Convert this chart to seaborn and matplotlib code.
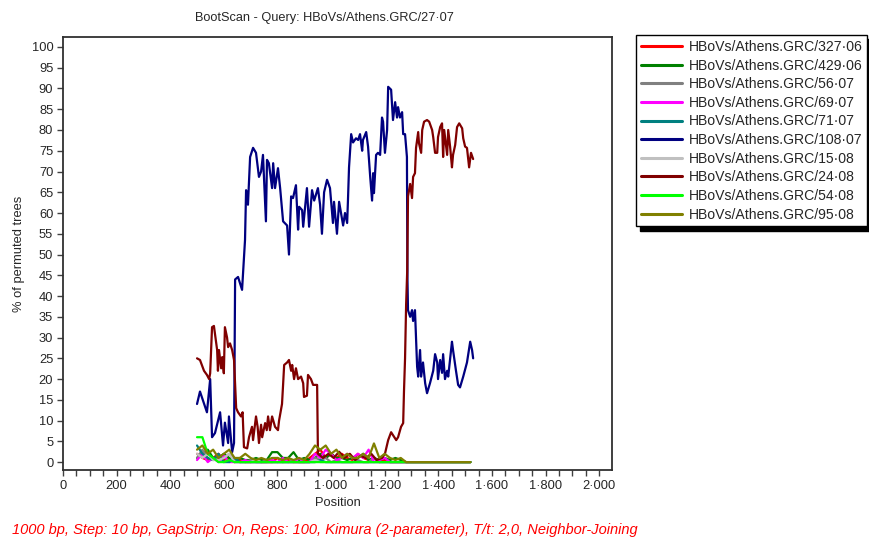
import numpy as np
import pandas as pd
import matplotlib
matplotlib.use("Agg")
import matplotlib.pyplot as plt
from matplotlib.ticker import MultipleLocator, FuncFormatter
import seaborn as sns

# series names and colours (legend order)
names = ["HBoVs/Athens.GRC/327·06", "HBoVs/Athens.GRC/429·06", "HBoVs/Athens.GRC/56·07",
         "HBoVs/Athens.GRC/69·07", "HBoVs/Athens.GRC/71·07", "HBoVs/Athens.GRC/108·07",
         "HBoVs/Athens.GRC/15·08", "HBoVs/Athens.GRC/24·08", "HBoVs/Athens.GRC/54·08",
         "HBoVs/Athens.GRC/95·08"]
colors = ["#FF0000", "#008000", "#808080", "#FF00FF", "#008080", "#000080",
          "#C0C0C0", "#800000", "#00FF00", "#808000"]

# 108-07 (navy)
pos_108 = [500, 511, 537, 549, 556, 567, 586, 597, 604, 616, 619, 631, 638, 642, 653, 668, 672, 679,
           683, 690, 694, 698, 709, 720, 731, 739, 746, 757, 761, 768, 780, 784, 791, 802, 810, 821,
           836, 843, 851, 858, 869, 877, 881, 892, 896, 910, 918, 929, 937, 951, 959, 966, 974, 985,
           996, 1007, 1011, 1022, 1030, 1045, 1052, 1060, 1063, 1067, 1075, 1082, 1093, 1101, 1108,
           1116, 1119, 1131, 1138, 1146, 1153, 1157, 1160, 1168, 1175, 1183, 1190, 1194, 1201, 1209,
           1213, 1224, 1231, 1239, 1246, 1250, 1257, 1265, 1269, 1276, 1283, 1285, 1287, 1295, 1302,
           1306, 1313, 1317, 1321, 1325, 1332, 1336, 1343, 1351, 1358, 1369, 1381, 1388, 1396, 1399,
           1407, 1414, 1418, 1425, 1433, 1437, 1451, 1455, 1466, 1474, 1481, 1493, 1507, 1519, 1526,
           1530]
val_108 = [14, 17, 12, 20, 6, 7, 12, 4, 9.5, 4.6, 11, 2.4, 4.6, 44, 44.6, 41.5, 46, 53.5,
           65.5, 62, 68, 73.5, 75.7, 74.5, 68.7, 70, 74, 58, 72.8, 72, 66, 72, 66, 70.8, 66, 58,
           57, 50, 64, 63.6, 66.7, 56, 61.5, 60.7, 56.7, 66, 56.7, 65.5, 63, 66, 62, 55, 65, 68,
           66, 57.6, 62.7, 55, 62.7, 57, 60, 57.6, 63, 71, 79, 77, 78, 77.6, 79,
           75, 77.6, 79.5, 76, 68.7, 63, 69.6, 64.8, 74, 74.5, 74, 83, 82, 74.5, 80,
           90.4, 89.7, 82.4, 86.7, 83, 85.5, 83, 84.3, 79, 79, 73.5, 44, 36.6, 35, 36.6,
           34, 36.6, 30, 23, 20.6, 27, 20.6, 24, 19, 16.6, 19, 22, 26, 24, 20,
           24.6, 21.5, 26, 20, 22, 20.6, 29, 27, 22, 18.6, 18, 20.6, 24, 29, 27,
           25]

# 24-08 (maroon)
pos_24 = [500, 511, 526, 537, 545, 549, 556, 563, 575, 578, 582, 590, 594, 600, 604, 612, 616, 623,
          631, 638, 646, 653, 664, 670, 675, 687, 694, 705, 709, 720, 726, 731, 739, 743, 754, 760,
          765, 772, 780, 791, 802, 806, 817, 821, 825, 836, 843, 851, 855, 862, 869, 877, 888, 896,
          899, 910, 914, 925, 933, 948, 951, 970, 990, 1010, 1030, 1050, 1070, 1090, 1110, 1130,
          1150, 1170, 1190, 1201, 1213, 1224, 1231, 1243, 1250, 1261, 1269, 1272, 1276, 1280, 1284,
          1287, 1295, 1302, 1306, 1313, 1317, 1325, 1328, 1336, 1340, 1347, 1358, 1366, 1377, 1381,
          1388, 1396, 1399, 1407, 1414, 1418, 1422, 1433, 1437, 1444, 1451, 1455, 1463, 1470, 1478,
          1489, 1493, 1500, 1507, 1515, 1522, 1530]
val_24 = [25, 24.6, 22, 21, 20, 21.4, 32.5, 32.8, 27, 22, 27, 22.6, 25.3, 21.4, 32.5, 30, 27.7, 28.6,
          27, 24.6, 13, 12, 11, 12, 3.6, 3.3, 6, 8.5, 5.3, 11, 8.5, 4.6, 9, 6, 9.4, 7.7,
          11, 7.7, 11, 8.5, 7.7, 10, 14, 18.6, 23.4, 24, 24.6, 22, 23.4, 20, 22.6, 20, 20.6, 19,
          15.7, 16, 21, 20, 18.6, 18.6, 2, 1, 2, 1, 2.5, 1, 2, 0.5, 1.5, 1,
          2, 0.5, 1, 2, 5.3, 7.2, 6.5, 5.3, 6, 8.5, 9.4, 17, 25, 38, 46,
          64, 67, 63.6, 68.7, 69.6, 75.7, 79.5, 76.8, 74.5, 80, 82, 82.4, 82, 80, 78.3,
          74.5, 74.5, 78.3, 80.7, 81.6, 73.5, 80, 74, 80, 76, 71, 74, 76.4, 80.7, 81.6,
          80.4, 78, 76, 75.7, 71, 74.5, 73]

# low-lying series, one value every 20 bp from 500
grid = np.arange(500, 1540, 20)
zeros13 = [0] * 13
val_327 = [2, 1, 0.5, 1, 2, 0.5, 1, 0, 0.5, 0, 0, 0.5, 0, 0, 0, 1, 0, 0.5, 0, 0,
           0, 1, 2, 3, 1, 2, 1, 2, 1, 0.5, 2, 1, 0.5, 1, 0, 0.5, 0, 0, 0] + zeros13
val_429 = [1, 2, 3, 1, 1, 2, 1, 0.5, 1, 0.5, 0.5, 1, 0.5, 0.5, 2.4, 2.4, 1, 1, 2.4, 0.5,
           1, 0.5, 1, 2, 1, 2, 1, 1, 0.5, 1, 1, 2, 0.5, 1, 0.5, 1, 0.5, 1, 0.5] + zeros13
val_56 = [1, 3, 1, 0.5, 1, 1, 2, 0.5, 0, 0, 0.5, 0, 0, 0.5, 0, 0, 0, 0, 0.5, 0,
          0, 0, 1, 0.5, 1, 0, 0.5, 0, 0, 0, 0.5, 0, 0, 1, 0, 0, 0, 0, 0] + zeros13
val_69 = [0.5, 2, 0, 1, 0, 1.5, 0, 0, 0, 0.5, 0, 0, 0, 0, 0.5, 0, 1, 0, 0, 1,
          0, 0, 2, 1, 3, 2, 0.5, 1, 2, 1, 2, 1, 3, 0, 0.5, 1, 0, 0, 0] + zeros13
val_71 = [4, 2, 1, 0.5, 2, 0, 0, 1, 0, 0, 0, 0, 0, 0, 0, 0, 0, 0, 0, 0,
          0, 0, 0, 0.5, 0, 0, 0, 0, 0, 0, 0, 0, 0, 0, 0, 0, 0, 0, 0] + zeros13
val_15 = [2, 1, 2, 0.5, 0.5, 1, 2, 0, 0, 0, 0, 0.5, 0, 0, 0, 0, 0, 0, 0, 0,
          0, 0, 0.5, 0, 0, 0, 0, 0, 0, 0, 0, 0, 0, 0, 0, 0, 0, 0, 0] + zeros13
val_54 = [6, 6, 2, 1, 0, 0, 0.5, 0, 0, 0, 0, 0, 0, 0, 0, 0, 0, 0, 0, 0,
          0, 0, 0, 0, 0, 0, 0, 0, 0, 0, 0, 0, 0, 0, 0, 0, 0, 0, 0] + zeros13
val_95 = [3, 4, 2, 3, 1, 2, 3, 1, 1, 2, 1, 0.5, 1, 0.5, 1, 1, 0.5, 1, 0.5, 1,
          0.5, 2, 4, 3, 4, 2, 3, 1, 2, 1, 1, 2, 1, 4.5, 1, 2, 1, 0.5, 1] + zeros13

series = [(grid, val_327), (grid, val_429), (grid, val_56), (grid, val_69), (grid, val_71),
          (pos_108, val_108), (grid, val_15), (pos_24, val_24), (grid, val_54), (grid, val_95)]

sns.set_style("white")
plt.rcParams['font.family'] = ['Liberation Sans', 'DejaVu Sans']

fig = plt.figure(figsize=(8.7, 5.4), dpi=100)
ax = fig.add_axes([63 / 870, 1 - 470 / 540, (612 - 63) / 870, (470 - 37) / 540])

for (xs, ys), name, col in zip(series, names, colors):
    df = pd.DataFrame({"Position": xs, "val": ys})
    sns.lineplot(data=df, x="Position", y="val", color=col, linewidth=1.6, label=name,
                 estimator=None, sort=False, ax=ax)

ax.set_xlim(0, 2048)
ax.set_ylim(-1.9, 102.4)
ax.xaxis.set_major_locator(MultipleLocator(200))
ax.xaxis.set_minor_locator(MultipleLocator(50))
ax.yaxis.set_major_locator(MultipleLocator(5))
ax.xaxis.set_major_formatter(FuncFormatter(lambda v, p: f"{int(v):,}".replace(",", "·")))
ax.tick_params(axis="both", which="both", direction="out", length=4, width=1,
               color="#404040", labelsize=9.3, pad=3, bottom=True, left=True)
for sp in ax.spines.values():
    sp.set_color("#303030")
    sp.set_linewidth(1.3)

ax.set_xlabel("Position", fontsize=9.3, labelpad=4)
ax.set_ylabel("% of permuted trees", fontsize=9.3, labelpad=5)
fig.text(324 / 870, 1 - 18 / 540, "BootScan - Query: HBoVs/Athens.GRC/27·07",
         ha="center", va="center", fontsize=9.2)
fig.text(12 / 870, 1 - 530 / 540,
         "1000 bp, Step: 10 bp, GapStrip: On, Reps: 100, Kimura (2-parameter), T/t: 2,0, Neighbor-Joining",
         color="red", style="italic", fontsize=10.5, va="center")

leg = ax.legend(loc="upper left", bbox_to_anchor=(636 / 870, 1 - 35 / 540),
                bbox_transform=fig.transFigure, borderaxespad=0, fontsize=10.1,
                handlelength=2.9, handletextpad=0.5, labelspacing=0.33, borderpad=0.35,
                fancybox=False, edgecolor="black", framealpha=1,
                shadow={"color": "black", "alpha": 1, "ox": 3, "oy": -3})
leg.get_frame().set_linewidth(1.0)
for line in leg.get_lines():
    line.set_linewidth(2.2)

fig.savefig("out.png", dpi=100)
